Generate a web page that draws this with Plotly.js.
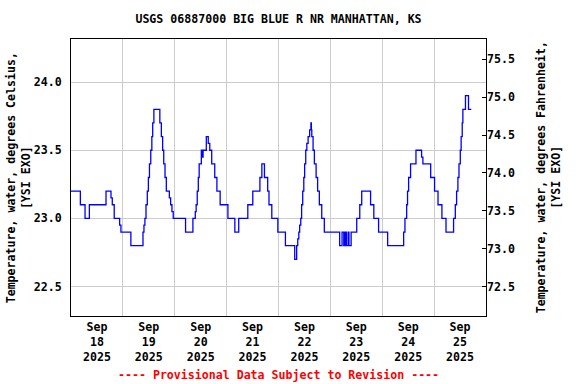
<!DOCTYPE html>
<html>
<head>
<meta charset="utf-8">
<script src="https://cdn.plot.ly/plotly-3.0.1.min.js"></script>
<style>html,body{margin:0;padding:0;background:#fff;}#chart{width:576px;height:384px;}</style>
</head>
<body>
<div id="chart"></div>
<script>
// Hours after 2025-09-18 00:00 at which the reading changes, and the reading (deg C)
const startDate = Date.UTC(2025, 8, 18);
const hours = [
  0, 4.33, 6.5, 8.5, 16.2, 18.5, 19.1, 20.0, 22.5, 23.1,
  27.7, 33.3, 33.75, 34.2, 34.7, 35.3, 35.8, 36.3, 36.9, 37.4,
  37.8, 38.35, 41.1, 41.8, 42.4, 42.9, 43.5, 44.1, 45.5, 46.1,
  46.7, 47.3, 53.0, 56.4, 57.5, 57.9, 58.4, 58.9, 59.3, 60.3,
  60.8, 61.1, 62.6, 63.5, 64.2, 65.1, 66.5, 67.5, 69.0, 72.6,
  75.8, 77.6, 81.8, 84.1, 87.4, 88.3, 89.5, 91.0, 91.6, 92.9,
  95.7, 99.2, 103.5, 104.4, 104.9, 105.4, 105.8, 106.3, 106.7, 107.2,
  107.7, 108.1, 108.6, 109.1, 109.7, 110.4, 111.0, 111.2, 111.4, 112.0,
  112.6, 113.4, 114.1, 114.9, 116.0, 117.2, 124.3, 125.4, 126.2, 126.6,
  126.8, 127.4, 127.6, 128.4, 128.6, 129.6, 132.2, 133.6, 134.5, 138.6,
  140.1, 142.3, 146.5, 153.9, 154.5, 155.3, 155.7, 156.2, 157.1, 159.6,
  162.2, 162.8, 166.4, 168.2, 169.8, 171.6, 173.5, 177.0, 177.8, 178.4,
  179.0, 179.5, 180.1, 180.5, 181.0, 181.3, 182.5, 183.9, 185.2
];
const tempC = [
  23.2, 23.1, 23.0, 23.1, 23.2, 23.15, 23.1, 23.0, 22.95, 22.9,
  22.8, 22.9, 22.95, 23.0, 23.1, 23.2, 23.3, 23.4, 23.5, 23.6,
  23.7, 23.8, 23.7, 23.6, 23.5, 23.4, 23.3, 23.2, 23.15, 23.1,
  23.05, 23.0, 22.9, 23.0, 23.05, 23.1, 23.2, 23.3, 23.4, 23.5,
  23.45, 23.5, 23.6, 23.55, 23.5, 23.4, 23.3, 23.2, 23.1, 23.0,
  22.9, 23.0, 23.1, 23.2, 23.3, 23.4, 23.3, 23.2, 23.1, 23.0,
  22.9, 22.8, 22.7, 22.8, 22.85, 22.9, 22.95, 23.0, 23.1, 23.2,
  23.3, 23.4, 23.5, 23.55, 23.6, 23.65, 23.7, 23.65, 23.6, 23.5,
  23.4, 23.3, 23.2, 23.1, 23.0, 22.9, 22.8, 22.9, 22.8, 22.9,
  22.8, 22.9, 22.8, 22.9, 22.8, 22.9, 23.0, 23.1, 23.2, 23.1,
  23.0, 22.9, 22.8, 22.9, 23.0, 23.1, 23.2, 23.3, 23.4, 23.5,
  23.45, 23.4, 23.3, 23.2, 23.1, 23.0, 22.9, 23.0, 23.1, 23.2,
  23.3, 23.4, 23.5, 23.6, 23.7, 23.8, 23.9, 23.8, 23.8
];
const yTicksC = [22.5, 23.0, 23.5, 24.0];
const rangeC = [22.284, 24.316];
const xRange = ['2025-09-18 00:00:00', '2025-09-26 00:00:00'];
const titleText = 'USGS 06887000 BIG BLUE R NR MANHATTAN, KS';
const leftTitle = 'Temperature, water, degrees Celsius,<br>[YSI EXO]';
const rightTitle = 'Temperature, water, degrees Fahrenheit,<br>[YSI EXO]';
const footer = '---- Provisional Data Subject to Revision ----';

function toDateStr(h) {
  const d = new Date(startDate + Math.round(h * 3600000));
  return d.toISOString().slice(0, 19).replace('T', ' ');
}
const xs = hours.map(toDateStr);
const rangeF = rangeC.map(c => c * 1.8 + 32);

const mono = {family: 'DejaVu Sans Mono, Liberation Mono, monospace', size: 11.6, color: '#000', weight: 'bold'};

const traces = [
  {x: xs, y: tempC, type: 'scatter', mode: 'lines', line: {color: '#0000ff', width: 1.3, shape: 'hv'}, hoverinfo: 'skip', showlegend: false},
  {x: [], y: [], type: 'scatter', mode: 'lines', yaxis: 'y2', showlegend: false, hoverinfo: 'skip'}
];

const layout = {
  width: 576, height: 384,
  margin: {l: 71, r: 90, t: 39, b: 68},
  paper_bgcolor: '#fff', plot_bgcolor: '#fff',
  showlegend: false,
  font: mono,
  title: {text: titleText, font: mono, x: 0.5, xref: 'paper', y: 1 - 19 / 384, yref: 'container', yanchor: 'middle', xanchor: 'center'},
  xaxis: {
    type: 'date', range: xRange, dtick: 86400000, tick0: '2025-09-18',
    ticklabelmode: 'period', tickformat: '%b<br>%d<br>%Y',
    showgrid: true, gridcolor: '#cccccc', gridwidth: 1,
    showline: true, mirror: true, linecolor: '#000', linewidth: 1,
    ticks: '', tickfont: mono, zeroline: false, fixedrange: true
  },
  yaxis: {
    range: rangeC, tickvals: yTicksC, tickformat: '.1f',
    showgrid: true, gridcolor: '#cccccc', gridwidth: 1,
    showline: true, mirror: true, linecolor: '#000', linewidth: 1,
    ticks: '', ticklabelstandoff: 6, tickfont: mono, zeroline: false
  },
  yaxis2: {
    overlaying: 'y', side: 'right', range: rangeF, tick0: 72.5, dtick: 0.5, tickformat: '.1f',
    showgrid: false, zeroline: false, showline: false,
    ticks: 'inside', ticklen: 4, tickcolor: '#000', tickwidth: 1, tickfont: mono
  },
  annotations: [
    {text: leftTitle, xref: 'paper', yref: 'paper', x: -0.1257, y: 0.5, textangle: -90, showarrow: false, font: mono, xanchor: 'center', yanchor: 'middle', align: 'center'},
    {text: rightTitle, xref: 'paper', yref: 'paper', x: 1.1514, y: 0.5, textangle: -90, showarrow: false, font: mono, xanchor: 'center', yanchor: 'middle', align: 'center'},
    {text: footer, xref: 'paper', yref: 'paper', x: 0.5, y: -0.213, showarrow: false, font: Object.assign({}, mono, {color: '#ff0000'}), xanchor: 'center', yanchor: 'middle'}
  ]
};

Plotly.newPlot('chart', traces, layout, {staticPlot: true, displayModeBar: false});
</script>
</body>
</html>
